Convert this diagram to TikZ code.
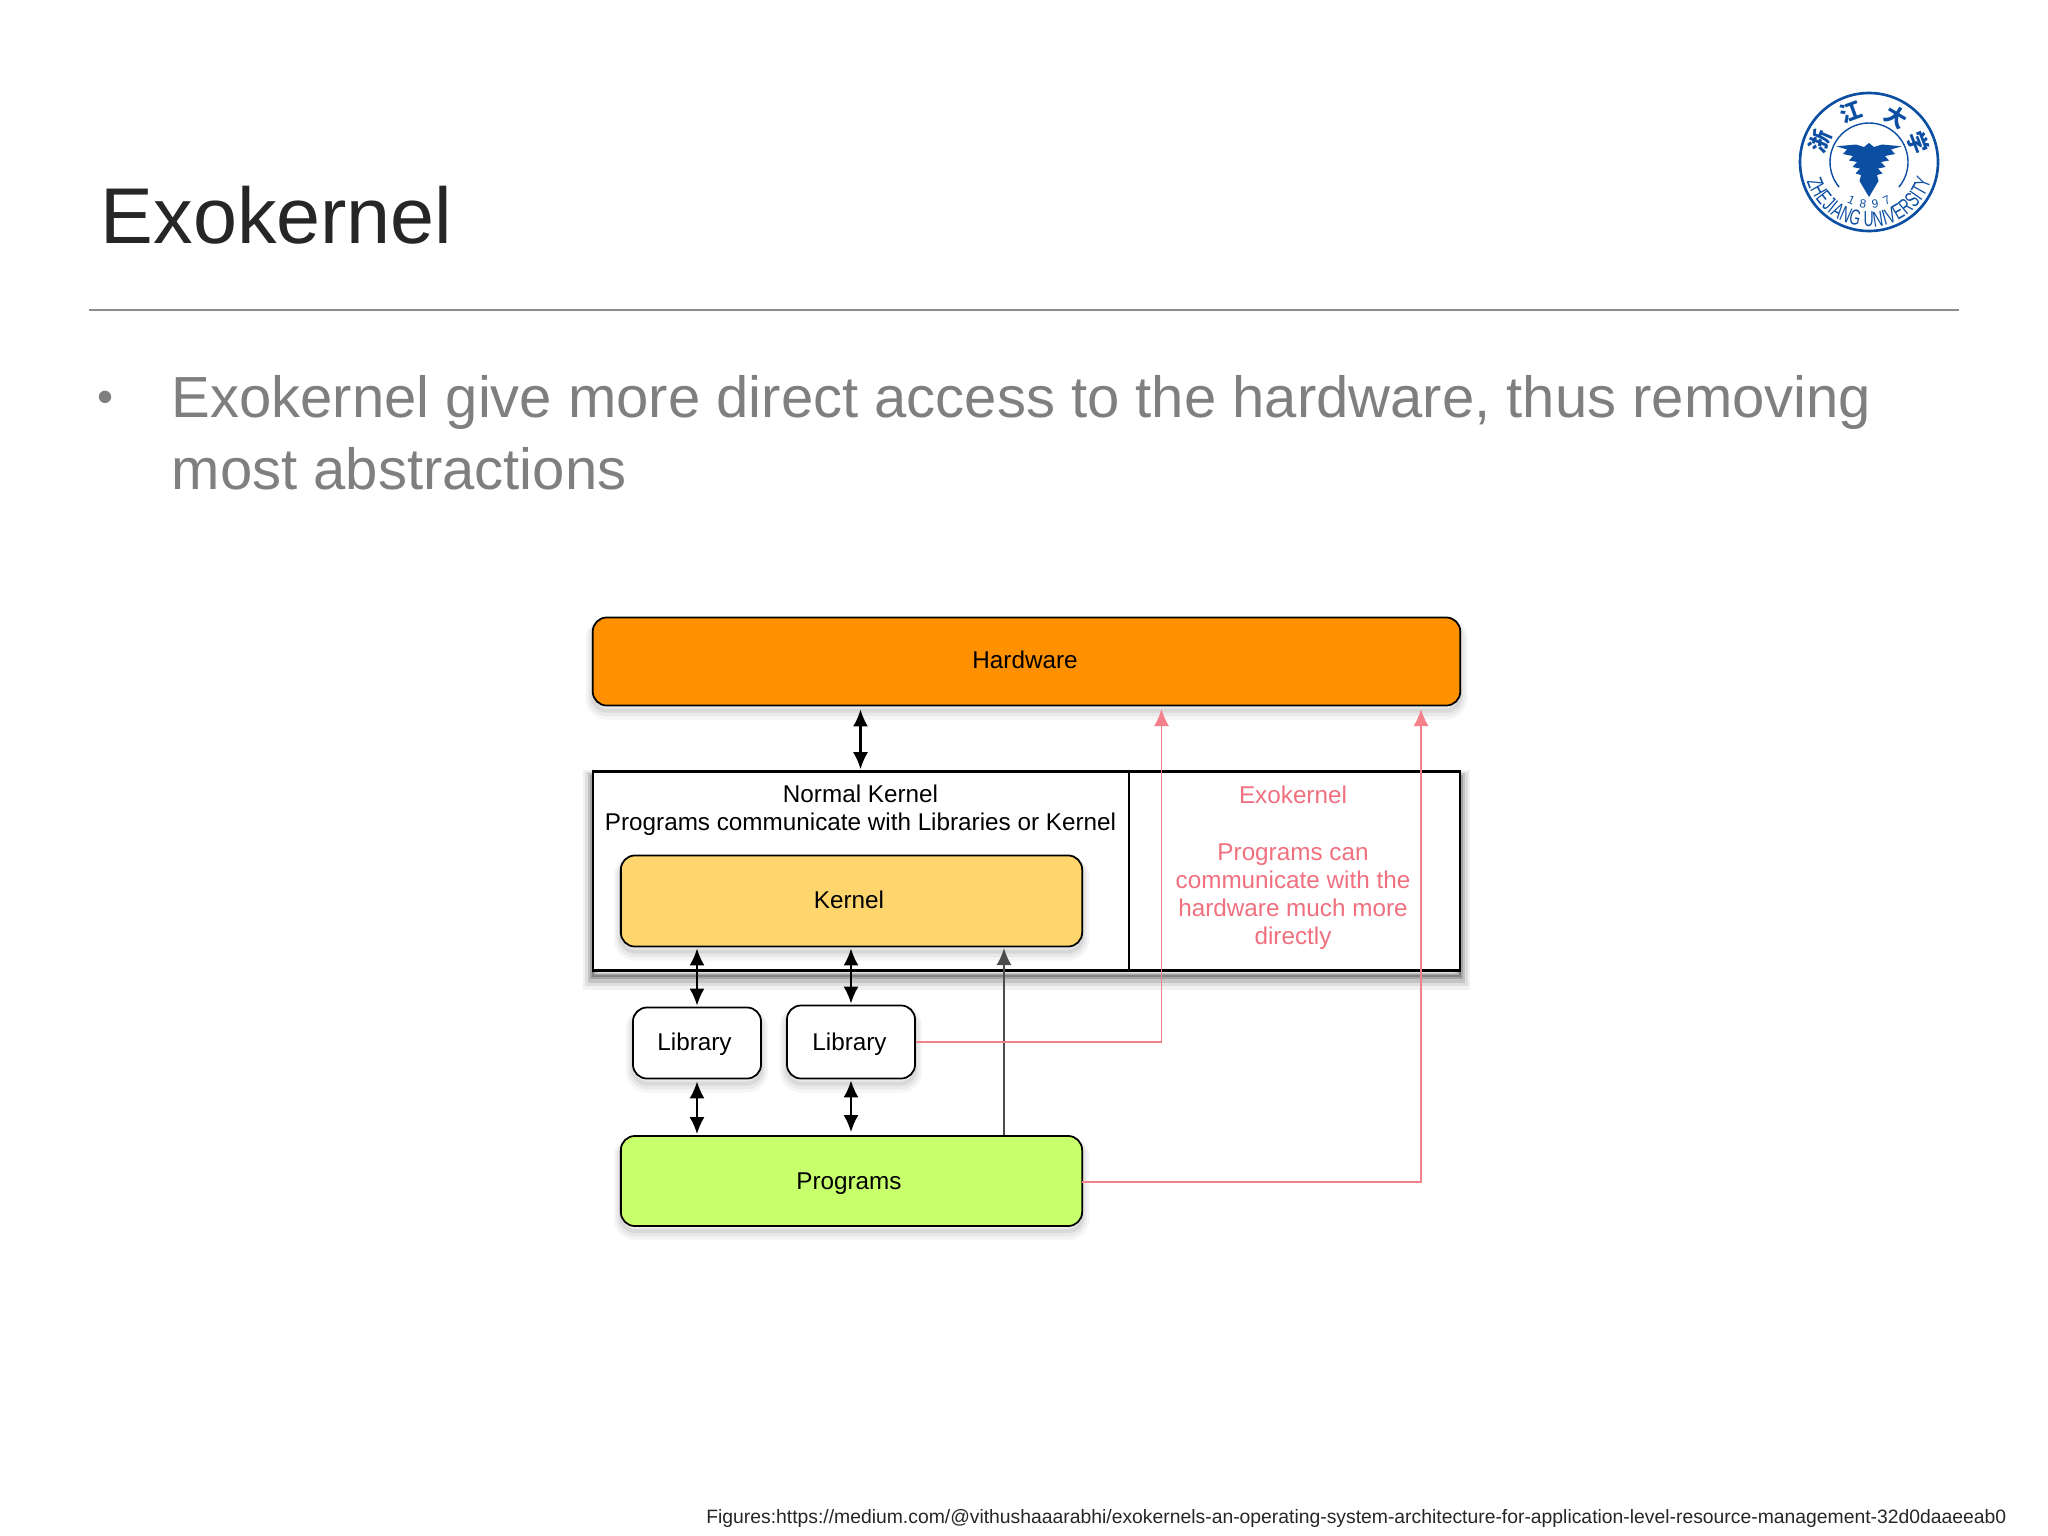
\documentclass[tikz,border=0pt]{standalone}
\usepackage{fontspec}
\usepackage{xcolor}
\usepackage{tikz}
\usetikzlibrary{arrows.meta,decorations.text}
\setmainfont{Liberation Sans}
\newfontfamily\sealfont[FakeStretch=0.64]{Liberation Sans}
\newfontfamily\cjkfont{Noto Sans CJK SC}
\definecolor{HwOrange}{HTML}{FF9000}
\definecolor{KernelYellow}{HTML}{FFD66E}
\definecolor{ProgGreen}{HTML}{C8FF6C}
\definecolor{ExoRed}{HTML}{F4808C}
\definecolor{ExoText}{HTML}{F0707F}
\definecolor{BodyGrey}{HTML}{7F7F7F}
\definecolor{SealBlue}{HTML}{0B4EA2}
\tikzset{
SoftShadow/.style={
 preaction={draw=black, draw opacity=.04, line width=.14cm, transform canvas={yshift=-.07cm}},
 preaction={draw=black, draw opacity=.05, line width=.09cm, transform canvas={yshift=-.06cm}},
 preaction={draw=black, draw opacity=.07, line width=.04cm, transform canvas={yshift=-.05cm}}
 },
DarkShadow/.style={
 preaction={draw=black, draw opacity=.05, line width=.20cm, transform canvas={yshift=-.09cm}},
 preaction={draw=black, draw opacity=.08, line width=.15cm, transform canvas={yshift=-.08cm}},
 preaction={draw=black, draw opacity=.12, line width=.10cm, transform canvas={yshift=-.07cm}},
 preaction={draw=black, draw opacity=.16, line width=.05cm, transform canvas={yshift=-.06cm}},
 preaction={draw=black, draw opacity=.20, line width=.02cm, transform canvas={yshift=-.05cm}}
 },
RoundBox/.style={
 draw=black, 
 line width=.5pt, 
 rounded corners=.14cm, 
 inner sep=0pt, 
 font=\BoxFont, 
 SoftShadow
 },
BothFleche/.style={
 {Latex[length=.17cm,width=.15cm]}-{Latex[length=.17cm,width=.15cm]}, 
 line width=.6pt
 },
UpFleche/.style={
 -{Latex[length=.17cm,width=.15cm]}, 
 draw=black!70, 
 line width=.6pt
 },
RedFleche/.style={
 -{Latex[length=.17cm,width=.15cm]}, 
 draw=ExoRed, 
 line width=.5pt
 }
}
\newcommand{\BoxFont}{\fontsize{6.9}{8}\selectfont}
\begin{document}
\begin{tikzpicture}[x=.01cm,y=-.01cm]
\useasboundingbox (0,0) rectangle (2048,1536);
\node[anchor=base west,inner sep=0pt,text=black!85,font=\fontsize{22.5}{26}\selectfont] (title) at (100,243) {Exokernel};
\coordinate (ruleleft) at (89,310);
\coordinate (ruleright) at (1959,310);
\draw[draw=black!45,line width=.6pt] (ruleleft) -- (ruleright);
\node[anchor=base,inner sep=0pt,text=BodyGrey,font=\fontsize{13}{15}\selectfont] (bullet) at (106,412) {\textbullet};
\node[anchor=base west,inner sep=0pt,text=BodyGrey,font=\fontsize{16.5}{20}\selectfont] (line1) at (171,417) {Exokernel give more direct access to the hardware, thus removing};
\node[anchor=base west,inner sep=0pt,text=BodyGrey,font=\fontsize{16.5}{20}\selectfont] (line2) at (171,489) {most abstractions};
\node[anchor=base east,inner sep=0pt,text=black!85,font=\fontsize{5.5}{7}\selectfont] (source) at (2007,1523) {Figures:https://medium.com/@vithushaaarabhi/exokernels-an-operating-system-architecture-for-application-level-resource-management-32d0daaeeab0};
% the diagram
\node[RoundBox,fill=HwOrange,minimum width=8.67cm,minimum height=.88cm] (hardware) at (1026.5,661.5) {};
\node[font=\BoxFont,inner sep=0pt] (hardwaretext) at (1025,660) {Hardware};
\node[draw=black,fill=white,line width=.7pt,minimum width=8.67cm,minimum height=1.99cm,inner sep=0pt,DarkShadow] (main) at (1026.5,871) {};
\coordinate (split) at (1129,772);
\draw[line width=.5pt] (split) -- (split |- main.south);
\node[align=center,font=\BoxFont,inner sep=0pt] (normaltext) at (860.5,810.5) {Normal Kernel\\Programs communicate with Libraries or Kernel};
\node[align=center,font=\BoxFont,text=ExoText,inner sep=0pt] (exotext) at (1293,868) {Exokernel\\ \\Programs can\\communicate with the\\hardware much more\\directly};
\node[RoundBox,fill=KernelYellow,minimum width=4.61cm,minimum height=.91cm] (kernel) at (851.5,901) {};
\node[font=\BoxFont,inner sep=0pt] (kerneltext) at (849,900) {Kernel};
\node[RoundBox,fill=white,minimum width=1.28cm,minimum height=.71cm] (libone) at (697,1043) {};
\node[font=\BoxFont,inner sep=0pt] (libonetext) at (694.5,1044) {Library};
\node[RoundBox,fill=white,minimum width=1.28cm,minimum height=.73cm] (libtwo) at (851,1042) {};
\node[font=\BoxFont,inner sep=0pt] (libtwotext) at (849.5,1044) {Library};
\node[RoundBox,fill=ProgGreen,minimum width=4.61cm,minimum height=.90cm] (programs) at (851.5,1181) {};
\node[font=\BoxFont,inner sep=0pt] (programstext) at (849,1184) {Programs};
\draw[BothFleche,shorten <=.03cm,shorten >=.01cm] (hardware.south -| normaltext) -- (main.north -| normaltext);
\draw[BothFleche,shorten <=.01cm,shorten >=.01cm] (kernel.south -| libone) -- (libone.north);
\draw[BothFleche,shorten <=.01cm,shorten >=.01cm] (kernel.south -| libtwo) -- (libtwo.north);
\draw[BothFleche,shorten <=.02cm,shorten >=.01cm] (libone.south) -- (programs.north -| libone);
\draw[BothFleche,shorten <=.01cm,shorten >=.03cm] (libtwo.south) -- (programs.north -| libtwo);
\coordinate (kernelfoot) at (1004,948);
\draw[UpFleche] (programs.north -| kernelfoot) -- (kernelfoot);
\coordinate (hwone) at (1161.5,709);
\coordinate (hwtwo) at (1421,709);
\draw[RedFleche] (libtwo.east) -- (libtwo.east -| hwone) -- (hwone);
\draw[RedFleche] (programs.east) -- ++(0,1) -| (hwtwo);
% the seal
\begin{scope}[shift={(1869,162)},x=.01cm,y=.01cm]
\draw[SealBlue,line width=.75pt] (0,0) circle (69);
\draw[SealBlue,line width=.4pt] (-40:39) arc (-40:220:39);
\foreach \Mirror in {1,-1}
 \fill[SealBlue,xscale=\Mirror] (0,19) -- (-5,15) -- (-13,17.5) -- (-32.7,15.7) -- (-22,12.5) -- (-26,8) -- (-16,6) -- (-20,1.5) -- (-12,0)
  -- (-16.5,-5) -- (-9,-6.5) -- (-13.5,-11.5) -- (-8,-13) -- (-9.5,-19) -- (0,-35) -- cycle;
\foreach \Angle/\Zi in {157/浙,110/江,59/大,21/学}
 \node[text=SealBlue,inner sep=0pt,rotate=\Angle-90,font=\cjkfont\bfseries\fontsize{6.2}{7}\selectfont] at (\Angle:53) {\Zi};
\path[postaction={decorate,decoration={text along path,text color=SealBlue,text align=fit to path,
 text={|\sealfont\fontsize{6.2}{7}\selectfont|ZHEJIANG UNIVERSITY}}}] (197:65) arc (197:343:65);
\path[postaction={decorate,decoration={text along path,text color=SealBlue,text align=fit to path,
 text={|\fontsize{3.4}{4}\selectfont|1 8 9 7}}}] (241:46) arc (241:299:46);
\end{scope}
\end{tikzpicture}
\end{document}
